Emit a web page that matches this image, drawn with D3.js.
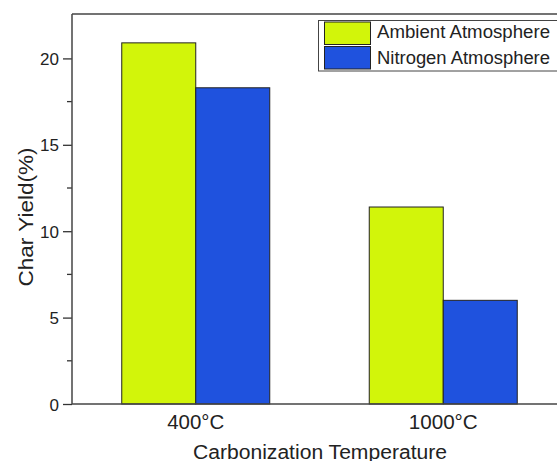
<!DOCTYPE html>
<html><head><meta charset="utf-8">
<script src="https://cdn.jsdelivr.net/npm/d3@7"></script>
<style>body{margin:0;background:#fff}svg{display:block}text{font-family:"Liberation Sans",Arial,sans-serif;fill:#222}</style>
</head><body><svg id="c" width="557" height="461"></svg>
<script>
const categories = ["400°C", "1000°C"];
const seriesNames = ["Ambient Atmosphere", "Nitrogen Atmosphere"];
const ambient = [20.9, 11.4];
const nitrogen = [18.3, 6.0];
const yTicks = [0, 5, 10, 15, 20];
const colors = ["#d2f50a", "#1f52de"];

(function(){
const svg = d3.select("#c");
const mLeft = 72, mRight = 567, mTop = 14, mBottom = 404;
const x = d3.scaleBand().domain(categories).range([mLeft, mRight]).paddingInner(0).paddingOuter(0);
const y = d3.scaleLinear().domain([0, 22.57]).range([mBottom, mTop]);
const barW = 74;

const series = [ambient, nitrogen];
series.forEach((vals, si) => {
  svg.append("g").selectAll("rect").data(categories).join("rect")
    .attr("x", c => x(c) + x.bandwidth()/2 - barW + si*barW)
    .attr("y", (c, i) => y(vals[i]))
    .attr("width", barW)
    .attr("height", (c, i) => y(0) - y(vals[i]))
    .attr("fill", colors[si])
    .attr("stroke", "#222").attr("stroke-width", 1);
});

const yAxis = d3.axisLeft(y).tickValues(yTicks).tickSize(9).tickPadding(4).tickFormat(d3.format("d"));
const gy = svg.append("g").attr("transform", `translate(${mLeft},0)`).call(yAxis);
gy.select(".domain").remove();
gy.selectAll(".tick line").attr("stroke", "#333").attr("stroke-width", 1.3);
gy.selectAll(".tick text").attr("font-size", 17).attr("dy", "0.36em").style("fill", "#222");
const minor = [2.5, 7.5, 12.5, 17.5];
svg.append("g").selectAll("line").data(minor).join("line")
  .attr("x1", mLeft - 5).attr("x2", mLeft).attr("y1", d => y(d)).attr("y2", d => y(d))
  .attr("stroke", "#333").attr("stroke-width", 1.3);

const xAxis = d3.axisBottom(x).tickSize(0).tickPadding(0);
const gx = svg.append("g").attr("transform", `translate(0,${mBottom})`).call(xAxis);
gx.select(".domain").remove();
const xw = {"400°C": 57, "1000°C": 69};
gx.selectAll(".tick text").attr("font-size", 20).attr("y", 25.3).attr("dy", null)
  .attr("textLength", d => xw[d]).attr("lengthAdjust", "spacingAndGlyphs").style("fill", "#222");

svg.append("line").attr("x1", mLeft).attr("x2", 557).attr("y1", mBottom).attr("y2", mBottom).attr("stroke", "#444").attr("stroke-width", 1.5);
svg.append("line").attr("x1", mLeft).attr("x2", 557).attr("y1", mTop).attr("y2", mTop).attr("stroke", "#444").attr("stroke-width", 1.5);
svg.append("line").attr("x1", mLeft).attr("x2", mLeft).attr("y1", mTop).attr("y2", mBottom).attr("stroke", "#444").attr("stroke-width", 1.5);

svg.append("text").attr("x", 320).attr("y", 459).attr("text-anchor", "middle").attr("font-size", 20)
  .attr("textLength", 254).attr("lengthAdjust", "spacingAndGlyphs").text("Carbonization Temperature");
svg.append("text").attr("transform", "translate(32.5,217) rotate(-90)").attr("text-anchor", "middle").attr("font-size", 20)
  .attr("textLength", 139).attr("lengthAdjust", "spacingAndGlyphs").text("Char Yield(%)");

const lg = svg.append("g");
lg.append("rect").attr("x", 318.5).attr("y", 20.5).attr("width", 260).attr("height", 50.5).attr("fill", "#fff").attr("stroke", "#444").attr("stroke-width", 1);
seriesNames.forEach((n, i) => {
  lg.append("rect").attr("x", 324.5).attr("y", 22 + i*24.5).attr("width", 46).attr("height", 22.5).attr("fill", colors[i]).attr("stroke", "#222");
  lg.append("text").attr("x", 377).attr("y", 38 + i*26).attr("font-size", 18)
    .attr("textLength", 173).attr("lengthAdjust", "spacingAndGlyphs").text(n);
});
})();
</script></body></html>
